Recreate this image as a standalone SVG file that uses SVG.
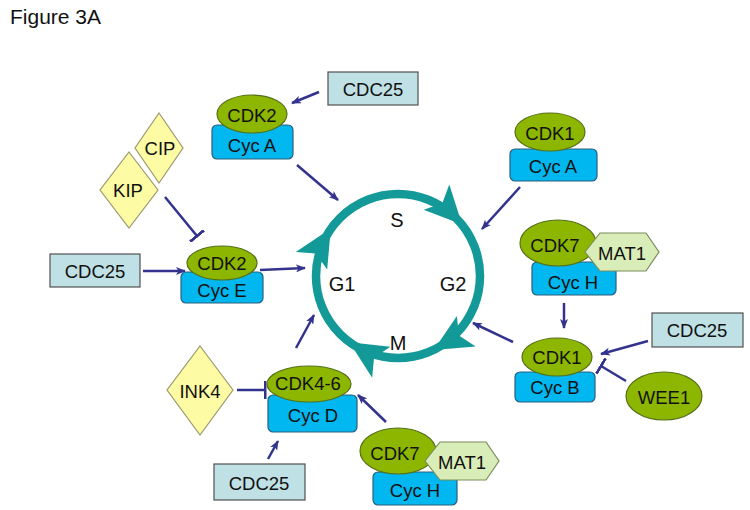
<svg xmlns="http://www.w3.org/2000/svg" width="750" height="510" viewBox="0 0 750 510">
<defs>
<style>
text{font-family:"Liberation Sans",Arial,sans-serif;font-size:18.5px;fill:#111;text-anchor:middle;dominant-baseline:central}
.cdk{fill:#8DB600;stroke:#55701a;stroke-width:1.2}
.cyc{fill:#00B7EF;stroke:#2a5f7d;stroke-width:1.2}
.box{fill:#BFE0E4;stroke:#505050;stroke-width:1.2}
.dia{fill:#FDFBA3;stroke:#9a9a70;stroke-width:1.2}
.mat{fill:#D9EDB8;stroke:#7b8c5c;stroke-width:1.2}
.ln{stroke:#33338F;stroke-width:2.5;fill:none}
.act{marker-end:url(#arr)}
.inh{marker-end:url(#tee)}
.cyc-ring{fill:none;stroke:#139A98;stroke-width:8.5}
.ah{fill:#139A98}
.ph{font-size:20px}
</style>
<marker id="arr" viewBox="0 0 10 8" refX="9" refY="4" markerWidth="10" markerHeight="8" markerUnits="userSpaceOnUse" orient="auto">
<path d="M0,0 L10,4 L0,8 L2.5,4 z" fill="#33338F"/>
</marker>
<marker id="tee" viewBox="0 0 3 18" refX="1.5" refY="9" markerWidth="3" markerHeight="18" markerUnits="userSpaceOnUse" orient="auto">
<rect x="0" y="0" width="3" height="18" fill="#33338F"/>
</marker>
<polygon id="ring-head" class="ah" points="480,282 498,244 480,253 462,245"/>
</defs>
<rect width="750" height="510" fill="#fff"/>
<text x="10" y="16" style="text-anchor:start;font-size:21px">Figure 3A</text>

<g id="cell-cycle">
<circle class="cyc-ring" cx="398" cy="276" r="82"/>
<use href="#ring-head" transform="rotate(-43 398 276)"/>
<use href="#ring-head" transform="rotate(60 398 276)"/>
<use href="#ring-head" transform="rotate(122 398 276)"/>
<use href="#ring-head" transform="rotate(211 398 276)"/>
<text class="ph" x="397" y="220">S</text>
<text class="ph" x="342" y="284">G1</text>
<text class="ph" x="453" y="284">G2</text>
<text class="ph" x="398" y="343">M</text>
</g>

<g id="connectors">
<line class="ln act" x1="319" y1="92" x2="292" y2="103"/>
<line class="ln act" x1="297" y1="165" x2="338" y2="200"/>
<line class="ln inh" x1="165" y1="197" x2="197" y2="236"/>
<line class="ln act" x1="143" y1="271" x2="185" y2="271"/>
<line class="ln act" x1="260" y1="270" x2="305" y2="268"/>
<line class="ln act" x1="520" y1="187" x2="482" y2="229"/>
<line class="ln act" x1="564" y1="303" x2="564" y2="328"/>
<line class="ln act" x1="648" y1="341" x2="601" y2="354"/>
<line class="ln inh" x1="626" y1="381" x2="601" y2="366"/>
<line class="ln act" x1="513" y1="342" x2="473" y2="323"/>
<line class="ln inh" x1="237" y1="390" x2="265" y2="390"/>
<line class="ln act" x1="296" y1="348" x2="314" y2="315"/>
<line class="ln act" x1="268" y1="459" x2="278" y2="441"/>
<line class="ln act" x1="386" y1="422" x2="358" y2="395"/>
</g>

<g id="cdc25-top"><rect class="box" x="328" y="72" width="90" height="33"/><text x="373" y="89">CDC25</text></g>

<g id="cdk2-cycA">
<rect class="cyc" x="212" y="125" width="81" height="34" rx="5"/>
<ellipse class="cdk" cx="252" cy="114" rx="35" ry="19"/>
<text x="252" y="115">CDK2</text>
<text x="252" y="145">Cyc A</text>
</g>

<g id="cip"><polygon class="dia" points="159,113 183,148 159,183 135,148"/><text x="160" y="148">CIP</text></g>
<g id="kip"><polygon class="dia" points="129,152 158,190 129,228 100,190"/><text x="128" y="190">KIP</text></g>

<g id="cdc25-left"><rect class="box" x="50" y="254" width="90" height="33"/><text x="95" y="271">CDC25</text></g>

<g id="cdk2-cycE">
<rect class="cyc" x="181" y="272" width="82" height="31" rx="5"/>
<ellipse class="cdk" cx="222" cy="263" rx="35" ry="17"/>
<text x="222" y="263">CDK2</text>
<text x="222" y="290">Cyc E</text>
</g>

<g id="cdk1-cycA">
<rect class="cyc" x="510" y="149" width="87" height="32" rx="5"/>
<ellipse class="cdk" cx="550" cy="132" rx="35" ry="19"/>
<text x="550" y="133">CDK1</text>
<text x="553" y="166">Cyc A</text>
</g>

<g id="cdk7-right">
<rect class="cyc" x="532" y="262" width="84" height="33" rx="5"/>
<ellipse class="cdk" cx="558" cy="243" rx="38" ry="23"/>
<polygon class="mat" points="585,252 600,233 646,233 659,252 646,271 600,271"/>
<text x="555" y="245">CDK7</text>
<text x="622" y="253">MAT1</text>
<text x="573" y="282">Cyc H</text>
</g>

<g id="cdk1-cycB">
<rect class="cyc" x="515" y="372" width="80" height="30" rx="5"/>
<ellipse class="cdk" cx="557" cy="357" rx="35" ry="19"/>
<text x="557" y="357">CDK1</text>
<text x="555" y="387">Cyc B</text>
</g>

<g id="cdc25-right"><rect class="box" x="652" y="313" width="91" height="34"/><text x="697" y="330">CDC25</text></g>

<g id="wee1"><ellipse class="cdk" cx="664" cy="396" rx="38" ry="24"/><text x="664" y="397">WEE1</text></g>

<g id="ink4"><polygon class="dia" points="200,346 233,390 200,435 167,390"/><text x="200" y="391">INK4</text></g>

<g id="cdk46-cycD">
<rect class="cyc" x="268" y="395" width="89" height="37" rx="5"/>
<ellipse class="cdk" cx="309" cy="384" rx="42" ry="18"/>
<text x="308" y="383">CDK4-6</text>
<text x="313" y="415">Cyc D</text>
</g>

<g id="cdc25-bottom"><rect class="box" x="214" y="464" width="91" height="36"/><text x="259" y="483">CDC25</text></g>

<g id="cdk7-bottom">
<rect class="cyc" x="373" y="472" width="84" height="33" rx="5"/>
<ellipse class="cdk" cx="398" cy="451" rx="38" ry="23"/>
<polygon class="mat" points="425,461 440,442 486,442 499,461 486,480 440,480"/>
<text x="395" y="453">CDK7</text>
<text x="462" y="462">MAT1</text>
<text x="415" y="490">Cyc H</text>
</g>
</svg>
